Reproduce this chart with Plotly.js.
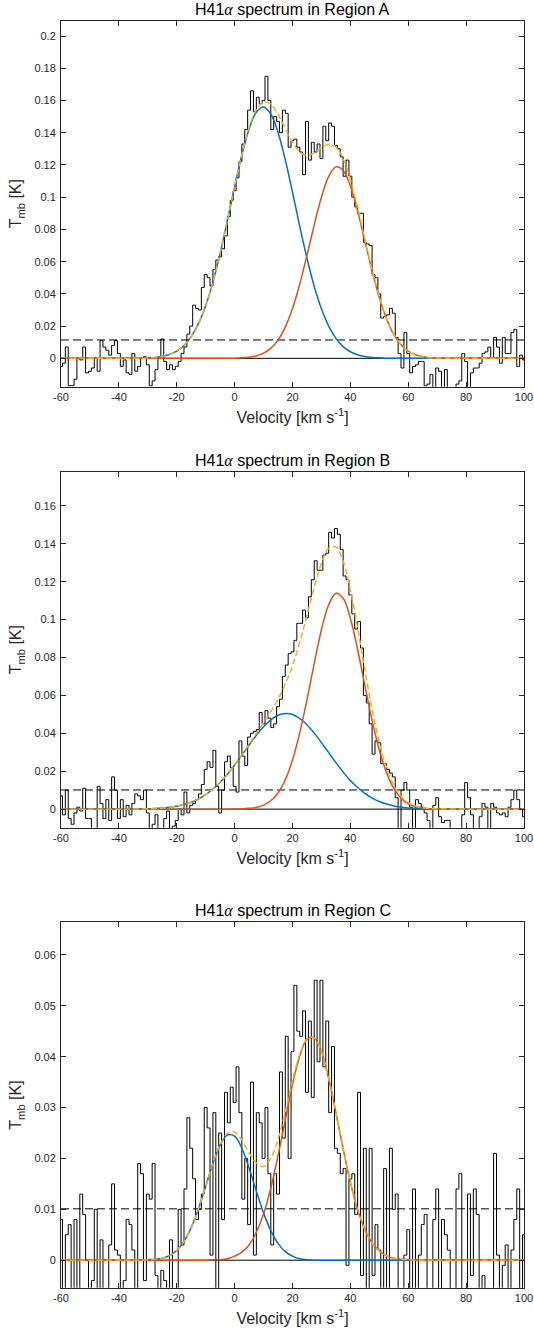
<!DOCTYPE html>
<html><head><meta charset="utf-8">
<script src="https://cdn.plot.ly/plotly-3.0.1.min.js"></script>
<style>html,body{margin:0;padding:0;background:#fff}#chart{width:534px;height:1333px}</style>
</head><body><div id="chart"></div>
<script>
// channel velocities (km/s)
const velocity = [-60,-59,-58,-57,-56,-55,-54,-53,-52,-51,-50,-49,-48,-47,-46,-45,-44,-43,-42,-41,
-40,-39,-38,-37,-36,-35,-34,-33,-32,-31,-30,-29,-28,-27,-26,-25,-24,-23,-22,-21,
-20,-19,-18,-17,-16,-15,-14,-13,-12,-11,-10,-9,-8,-7,-6,-5,-4,-3,-2,-1,
0,1,2,3,4,5,6,7,8,9,10,11,12,13,14,15,16,17,18,19,
20,21,22,23,24,25,26,27,28,29,30,31,32,33,34,35,36,37,38,39,
40,41,42,43,44,45,46,47,48,49,50,51,52,53,54,55,56,57,58,59,
60,61,62,63,64,65,66,67,68,69,70,71,72,73,74,75,76,77,78,79,
80,81,82,83,84,85,86,87,88,89,90,91,92,93,94,95,96,97,98,99,100];

const tmbA = [-0.005,-0.003,0.007,-0.017,-0.017,-0.013,0.000,-0.001,0.007,-0.009,
-0.008,-0.006,0.000,-0.008,0.011,0.007,0.005,0.002,0.008,0.011,
0.003,-0.005,-0.001,-0.009,-0.010,0.003,-0.008,-0.005,0.000,0.001,
-0.004,-0.017,-0.014,-0.007,0.000,0.012,-0.002,-0.007,-0.004,-0.007,
-0.005,-0.002,0.003,0.007,0.015,0.020,0.033,0.031,0.030,0.044,
0.052,0.050,0.045,0.055,0.061,0.063,0.068,0.076,0.088,0.098,
0.104,0.112,0.122,0.133,0.142,0.154,0.166,0.153,0.162,0.158,
0.160,0.175,0.160,0.142,0.150,0.147,0.140,0.154,0.152,0.131,
0.135,0.136,0.131,0.128,0.114,0.147,0.123,0.134,0.128,0.133,
0.124,0.144,0.135,0.146,0.144,0.132,0.130,0.125,0.113,0.123,
0.113,0.100,0.094,0.090,0.090,0.072,0.071,0.070,0.052,0.050,
0.040,0.025,0.026,0.027,0.031,0.028,0.013,0.003,-0.006,0.016,
0.003,-0.009,-0.005,-0.004,-0.002,-0.002,-0.017,-0.016,-0.010,-0.019,
-0.006,-0.008,-0.019,-0.007,-0.019,-0.019,-0.019,-0.016,-0.014,0.003,
-0.002,-0.019,-0.009,-0.006,-0.006,-0.003,0.003,0.004,0.007,0.000,
0.013,0.007,-0.003,0.013,0.003,0.003,0.016,0.018,-0.005,0.002,-0.001];

const tmbB = [0.007,-0.003,0.010,-0.005,-0.008,-0.002,0.001,-0.001,0.011,-0.005,
-0.005,-0.012,-0.012,0.012,0.003,-0.005,0.005,-0.006,0.017,0.010,
-0.005,0.005,-0.004,0.002,-0.003,0.003,0.008,0.007,0.005,0.010,
-0.002,-0.012,-0.008,-0.003,-0.012,-0.012,-0.005,-0.001,-0.012,-0.009,
-0.006,0.000,-0.003,0.009,-0.002,0.002,0.003,0.005,0.008,0.013,
0.021,0.025,0.022,0.031,0.012,-0.002,0.010,0.025,0.028,0.022,
0.012,0.009,0.036,0.028,0.023,0.038,0.040,0.041,0.042,0.051,
0.045,0.052,0.048,0.043,0.045,0.054,0.058,0.070,0.076,0.082,
0.083,0.089,0.098,0.098,0.105,0.101,0.112,0.121,0.131,0.126,
0.126,0.134,0.135,0.146,0.143,0.148,0.145,0.137,0.123,0.121,
0.113,0.103,0.095,0.099,0.085,0.060,0.056,0.045,0.029,0.036,
0.035,0.024,0.024,0.021,0.019,0.017,0.006,-0.012,0.010,0.014,
0.010,0.001,-0.012,0.005,0.003,0.001,-0.002,-0.006,-0.012,0.002,
0.006,-0.004,-0.007,-0.006,-0.006,-0.012,-0.012,-0.012,-0.012,-0.003,
0.014,0.006,-0.003,-0.012,-0.012,-0.004,0.003,0.001,-0.012,0.003,
0.001,-0.002,-0.003,-0.002,-0.004,0.001,0.005,0.010,0.005,0.000,-0.004];

const tmbC = [0.008,-0.008,0.005,0.007,-0.008,0.008,-0.008,0.013,0.009,0.000,
-0.008,-0.004,0.010,-0.008,0.004,-0.008,-0.008,0.003,0.015,0.002,
0.001,-0.008,-0.004,0.008,0.007,0.002,-0.008,0.019,0.017,-0.004,
0.013,0.012,0.019,-0.003,-0.008,-0.002,-0.004,-0.008,0.004,-0.008,
-0.008,0.010,0.003,0.014,0.028,0.022,0.016,0.008,0.010,0.013,
0.030,0.026,0.001,0.029,-0.008,0.025,0.008,0.033,0.027,0.034,
0.031,0.038,0.029,0.012,0.020,0.007,0.035,0.001,0.029,0.027,
0.020,0.030,0.017,0.003,0.017,0.013,0.037,0.024,0.044,0.020,
0.041,0.054,0.045,0.044,0.049,0.033,0.047,0.032,0.055,0.039,
0.055,0.038,0.047,0.029,0.042,0.022,0.021,0.017,0.018,-0.001,
0.016,0.017,0.009,0.033,-0.003,0.022,-0.006,0.022,-0.003,0.007,
0.002,-0.008,0.018,-0.008,0.022,0.010,0.013,-0.008,-0.008,0.001,
0.006,-0.008,0.014,-0.008,0.001,0.007,0.009,-0.008,-0.008,0.008,
0.014,-0.008,0.008,0.005,0.002,-0.008,-0.008,0.014,0.017,-0.008,
-0.008,0.013,-0.003,0.014,0.009,-0.008,-0.003,-0.008,-0.008,-0.008,
0.021,0.001,-0.008,-0.001,0.003,-0.008,0.002,0.008,0.014,-0.008,0.005];

// Gaussian fit components
const fitVelocity = [-60,-50,-40,-37.5,-35,-32.5,-30,-27.5,-25,-22.5,-20,-17.5,-15,-12.5,-10,-7.5,-5,-2.5,
0,2.5,5,7.5,10,12.5,15,17.5,20,22.5,25,27.5,30,32.5,35,37.5,40,42.5,45,47.5,50,52.5,55,57.5,60,62.5,65,67.5,70,80,90,100];

const fit1A = [0,0,0,0,0.0001,0.0001,0.0003,0.0006,0.0013,0.0024,0.0045,0.0080,0.0134,0.0215,0.0327,0.0473,0.0652,0.0854,
0.1064,0.1261,0.1423,0.1527,0.1560,0.1515,0.1401,0.1232,0.1031,0.0820,0.0621,0.0447,0.0307,0.0200,0.0124,0.0073,0.0041,0.0022,0.0011,0.0005,0.0003,0.0001,0.0001,0,0,0,0,0,0,0,0,0];
const fit2A = [0,0,0,0,0,0,0,0,0,0,0,0,0,0,0,0,0,0,
0.0001,0.0003,0.0007,0.0015,0.0032,0.0062,0.0113,0.0194,0.0309,0.0460,0.0639,0.0827,0.1000,0.1128,0.1188,0.1166,0.1069,0.0914,0.0729,0.0543,0.0377,0.0245,0.0148,0.0084,0.0044,0.0022,0.0010,0.0004,0.0002,0,0,0];

const fit1B = [0,0,0,0,0.0001,0.0001,0.0002,0.0003,0.0006,0.0010,0.0015,0.0024,0.0036,0.0053,0.0076,0.0106,0.0142,0.0184,
0.0233,0.0285,0.0338,0.0390,0.0435,0.0471,0.0495,0.0505,0.0499,0.0478,0.0445,0.0401,0.0351,0.0298,0.0245,0.0196,0.0151,0.0114,0.0083,0.0058,0.0040,0.0027,0.0017,0.0011,0.0006,0.0004,0.0002,0.0001,0.0001,0,0,0];
const fit2B = [0,0,0,0,0,0,0,0,0,0,0,0,0,0,0,0,0,0,
0.0001,0.0001,0.0004,0.0009,0.0021,0.0044,0.0085,0.0154,0.0259,0.0402,0.0577,0.0768,0.0946,0.1078,0.1138,0.1112,0.1006,0.0842,0.0653,0.0469,0.0311,0.0192,0.0109,0.0057,0.0028,0.0013,0.0005,0.0002,0.0001,0,0,0];

const fit1C = [0,0,0,0,0,0,0.0001,0.0002,0.0004,0.0009,0.0019,0.0037,0.0064,0.0101,0.0145,0.0190,0.0226,0.0246,
0.0244,0.0220,0.0181,0.0136,0.0093,0.0058,0.0033,0.0017,0.0008,0.0003,0.0001,0,0,0,0,0,0,0,0,0,0,0,0,0,0,0,0,0,0,0,0,0];
const fit2C = [0,0,0,0,0,0,0,0,0,0,0,0,0,0,0,0.0001,0.0001,0.0003,
0.0008,0.0016,0.0030,0.0055,0.0091,0.0142,0.0205,0.0275,0.0345,0.0401,0.0434,0.0437,0.0410,0.0357,0.0290,0.0219,0.0153,0.0100,0.0061,0.0034,0.0018,0.0009,0.0004,0.0002,0.0001,0,0,0,0,0,0,0];

const regionNames = ['A','B','C'];
const noiseLevels = [0.0114, 0.0101, 0.0101];

const xTickVals = [-60,-40,-20,0,20,40,60,80,100];
const xTickText = ['-60','-40','-20','0','20','40','60','80','100'];
const yTickValsA = [0,0.02,0.04,0.06,0.08,0.1,0.12,0.14,0.16,0.18,0.2];
const yTickTextA = ['0','0.02','0.04','0.06','0.08','0.1','0.12','0.14','0.16','0.18','0.2'];
const yTickValsB = [0,0.02,0.04,0.06,0.08,0.1,0.12,0.14,0.16];
const yTickTextB = ['0','0.02','0.04','0.06','0.08','0.1','0.12','0.14','0.16'];
const yTickValsC = [0,0.01,0.02,0.03,0.04,0.05,0.06];
const yTickTextC = ['0','0.01','0.02','0.03','0.04','0.05','0.06'];

const panels = [
  {tmb: tmbA, f1: fit1A, f2: fit2A, yr: [-0.0176, 0.2095], tv: yTickValsA, tt: yTickTextA, dom: [0.70990, 0.98447]},
  {tmb: tmbB, f1: fit1B, f2: fit2B, yr: [-0.0098, 0.178], tv: yTickValsB, tt: yTickTextB, dom: [0.37907, 0.64614]},
  {tmb: tmbC, f1: fit1C, f2: fit2C, yr: [-0.0054, 0.0664], tv: yTickValsC, tt: yTickTextC, dom: [0.03399, 0.30810]}
];

const FONT = 'Liberation Sans, Arial, Helvetica, sans-serif';
const INK = '#262626';
const traces = [];
const layout = {
  width: 534, height: 1333,
  margin: {l: 61, r: 10, t: 0, b: 0},
  paper_bgcolor: '#ffffff', plot_bgcolor: '#ffffff',
  showlegend: false,
  font: {family: FONT, color: INK},
  annotations: []
};
const titleOffsetPx = 11.5;

panels.forEach((p, i) => {
  const n = i === 0 ? '' : String(i + 1);
  const xa = 'x' + n, ya = 'y' + n;
  const xEnds = [velocity[0], velocity[velocity.length - 1]];
  traces.push({x: xEnds, y: [0, 0], xaxis: xa, yaxis: ya, mode: 'lines',
    line: {color: '#000000', width: 1}, hoverinfo: 'skip'});
  traces.push({x: xEnds, y: [noiseLevels[i], noiseLevels[i]], xaxis: xa, yaxis: ya, mode: 'lines',
    line: {color: '#000000', width: 1, dash: '8px,4px'}, hoverinfo: 'skip'});
  traces.push({x: velocity, y: p.tmb, xaxis: xa, yaxis: ya, mode: 'lines',
    line: {color: '#000000', width: 1, shape: 'hvh'}});
  traces.push({x: fitVelocity, y: p.f1, xaxis: xa, yaxis: ya, mode: 'lines',
    line: {color: '#0072BD', width: 1.5, shape: 'spline'}});
  traces.push({x: fitVelocity, y: p.f2, xaxis: xa, yaxis: ya, mode: 'lines',
    line: {color: '#D95319', width: 1.5, shape: 'spline'}});
  const sum = p.f1.map((v, k) => v + p.f2[k]);
  traces.push({x: fitVelocity, y: sum, xaxis: xa, yaxis: ya, mode: 'lines',
    line: {color: '#EDB120', width: 1.5, dash: '6px,3px', shape: 'spline'}});

  const axBase = {showline: true, mirror: 'ticks', linecolor: INK, linewidth: 1,
    ticks: 'inside', ticklen: 5, tickwidth: 1, tickcolor: INK, showgrid: false, zeroline: false,
    tickfont: {family: FONT, size: 11, color: INK}, fixedrange: true};
  layout['xaxis' + n] = Object.assign({}, axBase, {
    anchor: ya, domain: [0, 1], range: [-60, 100], tickmode: 'array',
    tickvals: xTickVals, ticktext: xTickText,
    title: {text: 'Velocity [km s<sup>-1</sup>]', font: {family: FONT, size: 16, color: INK}, standoff: 9}
  });
  layout['yaxis' + n] = Object.assign({}, axBase, {
    anchor: xa, domain: p.dom, range: p.yr, tickmode: 'array',
    tickvals: p.tv, ticktext: p.tt, ticklabelstandoff: 2,
    title: {text: 'T<sub>mb</sub> [K]', font: {family: FONT, size: 16, color: INK}, standoff: 8}
  });
  const topPx = (1 - p.dom[1]) * 1333;
  layout.annotations.push({
    text: 'H41<span style="font-family:Liberation Serif"><i>α</i></span> spectrum in Region ' + regionNames[i],
    xref: 'paper', yref: 'paper', x: 0.5, y: 1 - (topPx - titleOffsetPx) / 1333,
    xanchor: 'center', yanchor: 'middle', showarrow: false,
    font: {family: FONT, size: 16, color: '#000000'}
  });
});

Plotly.newPlot('chart', traces, layout, {staticPlot: true, displayModeBar: false});
</script>
</body></html>
